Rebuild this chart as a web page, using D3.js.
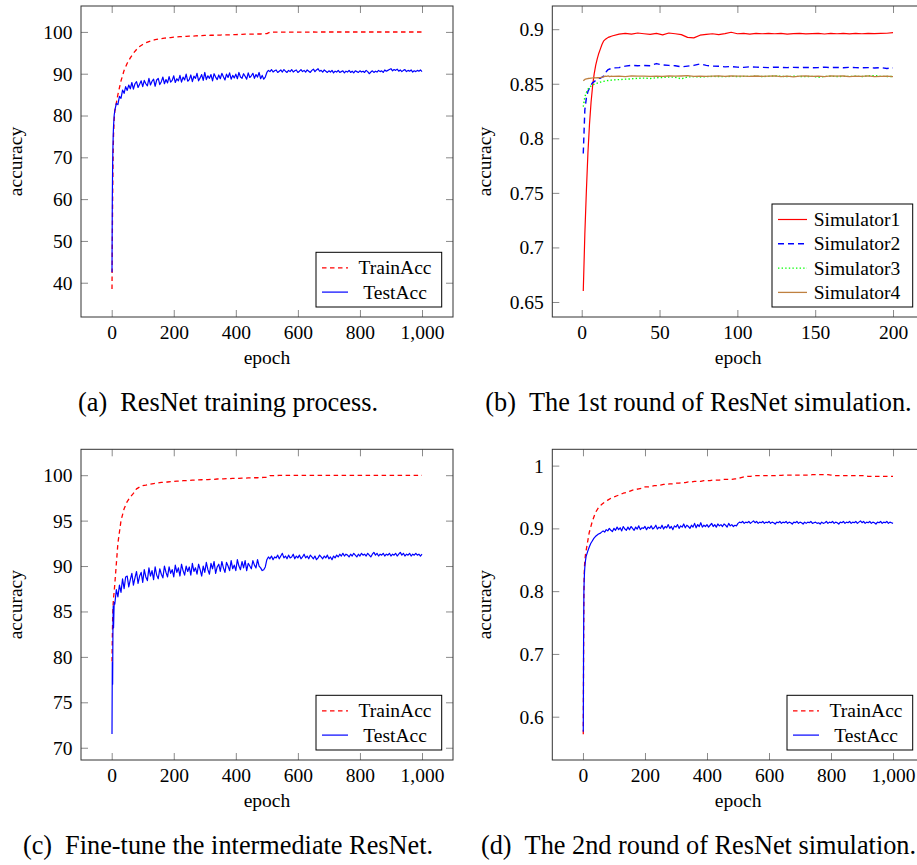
<!DOCTYPE html>
<html>
<head>
<meta charset="utf-8">
<script src="https://cdn.jsdelivr.net/npm/d3@7"></script>
<style>
  html, body { margin: 0; padding: 0; background: #fff; overflow: hidden; }
  svg { display: block; }
  text { font-family: "Liberation Serif", "Times New Roman", serif; fill: #000; }
</style>
</head>
<body>
<svg id="fig" width="917" height="865"></svg>
<script>
// ---------------------------------------------------------------------------
// Epoch grids (shared by the 1000-epoch runs)
// ---------------------------------------------------------------------------
const trainEpochs = [1, 2, 3, 4, 5, 6, 8].concat(d3.range(10, 1001, 10));
const testEpochs = [1, 2, 3, 4, 5, 6, 8].concat(d3.range(10, 1001, 5));
const simEpochs = d3.range(1, 20).concat(d3.range(20, 201, 4));

// ---------------------------------------------------------------------------
// (a) ResNet training process
// ---------------------------------------------------------------------------
const trainAccA = [
  38.5, 50, 60, 67, 72, 75.5, 79,
  81, 85, 88.3, 90.8, 92.5, 93.8, 94.9, 95.8, 96.5, 97.0,
  97.4, 97.7, 97.95, 98.15, 98.3, 98.4, 98.5, 98.6, 98.65, 98.75,
  98.8, 98.85, 98.9, 98.95, 99.0, 99.0, 99.05, 99.1, 99.1, 99.15,
  99.15, 99.2, 99.2, 99.25, 99.25, 99.3, 99.3, 99.3, 99.35, 99.35,
  99.4, 99.4, 99.45, 99.45, 99.45, 99.5, 99.5, 99.5, 99.55, 99.6,
  99.92, 99.94, 99.95, 99.95, 99.96, 99.96, 99.96, 99.97, 99.97, 99.97,
  99.97, 99.97, 99.97, 99.97, 99.98, 99.97, 99.98, 99.98, 99.98, 99.98,
  99.98, 99.98, 99.98, 99.98, 99.98, 99.98, 99.98, 99.98, 99.98, 99.98,
  99.98, 99.98, 99.98, 99.98, 99.98, 99.98, 99.98, 99.98, 99.98, 99.98,
  99.98, 99.98, 99.98, 99.98, 99.98, 99.98, 99.98, 99.98, 99.98, 99.98
];
const testAccA = [
  42.5, 60, 68, 72.5, 75.5, 77.5, 80,
  81.2, 82.9, 82.6, 84.6, 84.1, 86.1, 85.3, 86.9,
  86.0, 87.3, 86.4, 87.9, 86.3, 87.6, 88.1, 86.7, 87.5, 88.3,
  86.9, 88.4, 87.6, 87.1, 88.9, 87.3, 88.2, 88.7, 87.0, 88.5,
  88.9, 87.4, 88.1, 89.2, 87.6, 88.6, 87.8, 89.3, 88.0, 88.4,
  89.5, 87.9, 88.8, 88.3, 89.6, 88.0, 89.2, 88.5, 89.9, 88.2,
  88.6, 89.7, 88.1, 89.4, 88.9, 90.1, 88.3, 89.0, 89.8, 88.4,
  90.3, 88.6, 89.5, 88.9, 89.8, 88.3, 90.0, 89.2, 88.6, 89.7,
  88.8, 90.1, 89.3, 88.5, 89.9, 89.1, 90.2, 88.7, 89.6, 89.0,
  89.9, 88.8, 90.3, 89.2, 88.9, 90.0, 89.4, 88.7, 90.2, 89.1,
  89.5, 90.1, 88.9, 89.8, 89.2, 90.3, 88.8, 89.6, 88.7, 89.2,
  90.3, 90.8, 90.5, 91.0, 90.4, 90.7, 90.9, 90.3, 90.6, 90.9,
  90.4, 91.0, 90.6, 90.3, 90.8, 90.5, 91.0, 90.4, 90.7, 90.9,
  90.3, 90.6, 91.0, 90.5, 90.8, 90.4, 90.9, 90.6, 90.3, 90.8,
  91.1, 90.5, 90.9, 91.2, 90.6, 90.8, 90.4, 90.9, 90.6, 90.3,
  90.7, 90.4, 90.8, 90.2, 90.6, 90.4, 90.8, 90.3, 90.5, 90.7,
  90.2, 90.6, 90.4, 90.8, 90.3, 90.6, 90.2, 90.7, 90.5, 90.3,
  90.7, 90.4, 90.6, 90.3, 90.8, 90.5, 90.0, 90.4, 90.7, 90.3,
  90.6, 90.4, 90.8, 90.5, 90.7, 90.3, 90.9, 90.6, 90.8, 91.0,
  91.2, 90.7, 91.0, 90.8, 91.1, 90.6, 90.9, 90.5, 90.8, 91.0,
  90.5, 90.8, 90.6, 90.9, 90.4, 90.7, 90.5, 90.8, 90.6, 90.9,
  90.5
];

// ---------------------------------------------------------------------------
// (b) The 1st round of ResNet simulation
// ---------------------------------------------------------------------------
const simulator1 = [
  0.660, 0.712, 0.752, 0.787, 0.813, 0.833, 0.848, 0.859, 0.867, 0.873,
  0.878, 0.882, 0.886, 0.889, 0.8905, 0.8915, 0.8925, 0.893, 0.8935,
  0.8940, 0.8955, 0.8962, 0.8955, 0.8965, 0.8958, 0.8952, 0.8962, 0.8948, 0.8965,
  0.8958, 0.8950, 0.8925, 0.8920, 0.8945, 0.8952, 0.8958, 0.8950, 0.8960, 0.8972,
  0.8958, 0.8962, 0.8955, 0.8962, 0.8958, 0.8962, 0.8958, 0.8962, 0.8955, 0.8960,
  0.8962, 0.8957, 0.8960, 0.8962, 0.8956, 0.8961, 0.8958, 0.8962, 0.8957, 0.8961,
  0.8958, 0.8962, 0.8960, 0.8961, 0.8963, 0.8968
];
const simulator2 = [
  0.786, 0.826, 0.837, 0.843, 0.846, 0.849, 0.851, 0.852, 0.853, 0.854,
  0.855, 0.855, 0.856, 0.857, 0.859, 0.8615, 0.863, 0.8635, 0.864,
  0.8645, 0.8648, 0.8662, 0.8668, 0.8665, 0.8668, 0.8665, 0.8685, 0.8672, 0.8668,
  0.8665, 0.8655, 0.8662, 0.8668, 0.8682, 0.8668, 0.8662, 0.8660, 0.8655, 0.8658,
  0.8652, 0.8650, 0.8655, 0.8652, 0.8650, 0.8648, 0.8652, 0.8650, 0.8648, 0.8650,
  0.8648, 0.8650, 0.8647, 0.8648, 0.8652, 0.8648, 0.8650, 0.8647, 0.8650, 0.8648,
  0.8646, 0.8648, 0.8645, 0.8648, 0.8640, 0.8645
];
const simulator3 = [
  0.829, 0.838, 0.842, 0.845, 0.8465, 0.848, 0.849, 0.8495, 0.850, 0.8505,
  0.851, 0.8515, 0.852, 0.8522, 0.8525, 0.8528, 0.853, 0.8532, 0.8533,
  0.8535, 0.8538, 0.8542, 0.8545, 0.8550, 0.8552, 0.8548, 0.8555, 0.8558, 0.8562,
  0.8560, 0.8545, 0.8562, 0.8565, 0.8562, 0.8565, 0.8568, 0.8566, 0.8565, 0.8568,
  0.8566, 0.8568, 0.8567, 0.8569, 0.8566, 0.8568, 0.8572, 0.8568, 0.8566, 0.8569,
  0.8567, 0.8565, 0.8568, 0.8560, 0.8567, 0.8569, 0.8566, 0.8568, 0.8567, 0.8569,
  0.8566, 0.8572, 0.8575, 0.8568, 0.8567, 0.8566
];
const simulator4 = [
  0.8528, 0.8540, 0.8545, 0.8548, 0.8550, 0.8552, 0.8553, 0.8555, 0.8554, 0.8556,
  0.8555, 0.8557, 0.8560, 0.8562, 0.8570, 0.8568, 0.8572, 0.8566, 0.8569,
  0.8568, 0.8570, 0.8566, 0.8572, 0.8569, 0.8570, 0.8567, 0.8570, 0.8568, 0.8571,
  0.8569, 0.8571, 0.8574, 0.8567, 0.8570, 0.8568, 0.8570, 0.8572, 0.8568, 0.8571,
  0.8569, 0.8570, 0.8567, 0.8571, 0.8568, 0.8570, 0.8572, 0.8566, 0.8570, 0.8563,
  0.8569, 0.8571, 0.8567, 0.8570, 0.8566, 0.8572, 0.8569, 0.8571, 0.8566, 0.8570,
  0.8568, 0.8573, 0.8565, 0.8568, 0.8570, 0.8566
];

// ---------------------------------------------------------------------------
// (c) Fine-tune the intermediate ResNet
// ---------------------------------------------------------------------------
const trainAccC = [
  79.5, 82, 84, 85.2, 86, 86.5, 87.2,
  88.0, 92.5, 95.0, 96.3, 97.1, 97.6, 98.0, 98.5, 98.7, 98.85,
  98.9, 99.0, 99.05, 99.1, 99.15, 99.2, 99.2, 99.25, 99.3, 99.3,
  99.35, 99.35, 99.4, 99.4, 99.42, 99.45, 99.45, 99.48, 99.5, 99.52,
  99.52, 99.55, 99.55, 99.58, 99.6, 99.6, 99.62, 99.62, 99.65, 99.65,
  99.66, 99.68, 99.68, 99.7, 99.7, 99.72, 99.72, 99.74, 99.75, 99.76,
  99.95, 99.96, 99.96, 99.97, 99.97, 99.97, 99.97, 99.98, 99.98, 99.98,
  99.98, 99.98, 99.98, 99.98, 99.98, 99.98, 99.98, 99.98, 99.98, 99.98,
  99.98, 99.98, 99.98, 99.98, 99.98, 99.98, 99.98, 99.98, 99.98, 99.98,
  99.98, 99.98, 99.98, 99.98, 99.98, 99.98, 99.98, 99.98, 99.98, 99.98,
  99.98, 99.98, 99.98, 99.98, 99.98, 99.98, 99.98, 99.98, 99.98, 99.98
];
const testAccC = [
  71.5, 79.4, 77.0, 83.0, 85.6, 83.2, 86.0,
  85.8, 87.4, 86.6, 87.9, 87.1, 88.6, 87.5, 88.8,
  88.9, 87.7, 88.5, 89.2, 87.9, 88.7, 89.4, 88.1, 88.9, 89.3,
  88.2, 89.6, 88.8, 88.4, 89.8, 88.9, 89.5, 88.5, 89.9, 89.0,
  88.6, 89.7, 89.1, 88.7, 90.0, 89.3, 88.8, 89.9, 89.2, 89.6,
  88.8, 90.1, 89.3, 89.8, 88.9, 90.2, 89.5, 89.0, 90.0, 89.4,
  89.9, 89.0, 90.3, 89.4, 89.8, 89.1, 90.2, 89.6, 88.9, 90.0,
  89.3, 90.4, 89.6, 89.1, 90.3, 89.7, 90.5, 89.2, 89.9, 90.2,
  89.4, 90.5, 89.8, 89.3, 90.4, 90.0, 89.5, 90.6, 89.7, 90.1,
  89.5, 90.7, 90.0, 89.6, 90.5, 89.8, 90.6, 89.5, 90.3, 90.0,
  89.7, 90.6, 90.1, 89.8, 90.7, 90.0, 89.8, 89.5, 89.6, 89.9,
  90.7, 91.0, 90.8, 91.1, 90.7, 91.0, 90.9, 91.2, 90.8, 91.1,
  91.4, 90.9, 91.1, 90.8, 91.2, 90.9, 91.0, 91.3, 90.8, 91.1,
  90.9, 91.2, 90.8, 91.0, 91.3, 90.9, 91.1, 90.8, 91.2, 91.0,
  90.8, 91.1, 90.7, 90.9, 91.2, 91.0, 90.8, 91.1, 90.9, 91.2,
  90.8, 91.0, 90.7, 91.1, 90.9, 91.2, 91.0, 91.3, 91.1, 91.4,
  91.1, 91.3, 91.2, 91.0, 91.3, 91.1, 91.4, 91.2, 91.0, 91.3,
  91.1, 91.4, 91.2, 91.3, 91.1, 91.4, 91.2, 91.0, 91.3, 91.5,
  91.2, 91.4, 91.1, 91.3, 91.2, 91.4, 91.1, 91.3, 91.2, 91.4,
  91.1, 91.3, 91.2, 91.4, 91.1, 91.3, 91.5, 91.2, 91.4, 91.1,
  91.3, 91.2, 91.4, 91.1, 91.3, 91.2, 91.4, 91.2, 91.3, 91.1,
  91.3
];

// ---------------------------------------------------------------------------
// (d) The 2nd round of ResNet simulation
// ---------------------------------------------------------------------------
const trainAccD = [
  0.572, 0.70, 0.79, 0.825, 0.84, 0.848, 0.858,
  0.864, 0.893, 0.911, 0.925, 0.933, 0.938, 0.942, 0.945, 0.948, 0.950,
  0.952, 0.954, 0.956, 0.957, 0.959, 0.961, 0.962, 0.963, 0.964, 0.966,
  0.966, 0.967, 0.968, 0.968, 0.969, 0.970, 0.970, 0.971, 0.971, 0.972,
  0.972, 0.973, 0.973, 0.974, 0.974, 0.975, 0.975, 0.975, 0.976, 0.976,
  0.976, 0.977, 0.977, 0.977, 0.978, 0.978, 0.978, 0.978, 0.979, 0.979,
  0.981, 0.982, 0.983, 0.983, 0.984, 0.984, 0.984, 0.984, 0.984, 0.984,
  0.984, 0.984, 0.9845, 0.9845, 0.985, 0.985, 0.985, 0.985, 0.985, 0.985,
  0.985, 0.985, 0.985, 0.9855, 0.9855, 0.9855, 0.9855, 0.9855, 0.9855, 0.985,
  0.984, 0.984, 0.984, 0.984, 0.984, 0.984, 0.984, 0.984, 0.984, 0.984,
  0.984, 0.983, 0.983, 0.983, 0.983, 0.983, 0.983, 0.983, 0.983, 0.983
];
const testAccD = [
  0.576, 0.72, 0.80, 0.818, 0.83, 0.838, 0.848,
  0.855, 0.863, 0.870, 0.876, 0.880, 0.884, 0.887, 0.889,
  0.891, 0.892, 0.894, 0.896, 0.894, 0.898, 0.896, 0.900, 0.897, 0.895,
  0.900, 0.897, 0.902, 0.898, 0.901, 0.896, 0.903, 0.899, 0.897, 0.902,
  0.898, 0.903, 0.900, 0.897, 0.902, 0.899, 0.904, 0.898, 0.901, 0.900,
  0.903, 0.898, 0.902, 0.900, 0.904, 0.899, 0.901, 0.905, 0.899, 0.902,
  0.900, 0.905, 0.899, 0.903, 0.901, 0.906, 0.900, 0.903, 0.898, 0.904,
  0.902, 0.906, 0.900, 0.904, 0.902, 0.907, 0.901, 0.905, 0.903, 0.900,
  0.905, 0.902, 0.908, 0.901, 0.906, 0.903, 0.909, 0.902, 0.905, 0.903,
  0.906, 0.902, 0.905, 0.908, 0.903, 0.906, 0.902, 0.907, 0.904, 0.906,
  0.903, 0.907, 0.905, 0.902, 0.908, 0.904, 0.906, 0.903, 0.905, 0.904,
  0.908, 0.910, 0.909, 0.911, 0.908, 0.910, 0.909, 0.911, 0.908, 0.910,
  0.912, 0.909, 0.911, 0.908, 0.910, 0.909, 0.911, 0.908, 0.910, 0.909,
  0.911, 0.908, 0.910, 0.909, 0.907, 0.910, 0.909, 0.911, 0.908, 0.910,
  0.909, 0.911, 0.908, 0.910, 0.909, 0.907, 0.910, 0.909, 0.911, 0.908,
  0.910, 0.909, 0.907, 0.910, 0.908, 0.910, 0.909, 0.911, 0.908, 0.909,
  0.910, 0.908, 0.909, 0.907, 0.910, 0.908, 0.909, 0.911, 0.908, 0.910,
  0.909, 0.911, 0.908, 0.910, 0.909, 0.907, 0.910, 0.909, 0.911, 0.908,
  0.910, 0.909, 0.911, 0.908, 0.910, 0.909, 0.911, 0.908, 0.910, 0.912,
  0.909, 0.911, 0.908, 0.910, 0.909, 0.911, 0.908, 0.910, 0.909, 0.907,
  0.910, 0.909, 0.911, 0.908, 0.910, 0.909, 0.911, 0.908, 0.910, 0.909,
  0.908
];

// ---------------------------------------------------------------------------
// Tick values and labels
// ---------------------------------------------------------------------------
const epochTicks1000 = [0, 200, 400, 600, 800, 1000];
const epochTicks200 = [0, 50, 100, 150, 200];
const accTicksA = [40, 50, 60, 70, 80, 90, 100];
const accTicksB = [0.65, 0.7, 0.75, 0.8, 0.85, 0.9];
const accTicksC = [70, 75, 80, 85, 90, 95, 100];
const accTicksD = [0.6, 0.7, 0.8, 0.9, 1];

const legendTrainTest = ["TrainAcc", "TestAcc"];
const legendSimulators = ["Simulator1", "Simulator2", "Simulator3", "Simulator4"];
const captions = [
  ["(a)", "ResNet training process."],
  ["(b)", "The 1st round of ResNet simulation."],
  ["(c)", "Fine-tune the intermediate ResNet."],
  ["(d)", "The 2nd round of ResNet simulation."]
];

// ---------------------------------------------------------------------------
// Styles
// ---------------------------------------------------------------------------
const styleTrain = { color: "#ff0000", dash: "4.5,3.5", width: 1.3 };
const styleTest  = { color: "#0000ff", dash: null, width: 1.2 };
const styleSim = [
  { color: "#ff0000", dash: null, width: 1.2 },
  { color: "#0000ff", dash: "6,4", width: 1.4 },
  { color: "#00ff00", dash: "1.4,2.2", width: 1.4 },
  { color: "#bf8040", dash: null, width: 1.3 }
];

const fmtThousands = d3.format(",");
const fmtPlain = v => String(+v.toFixed(2));

// Panel layout (frame box in page pixels + axis limits)
const panels = [
  {
    frame: { left: 81, right: 453, top: 6, bottom: 317 },
    xDomain: [-98.9, 1099.9], yDomain: [31.8, 106.2],
    xTicks: epochTicks1000, yTicks: accTicksA, xFmt: fmtThousands, yFmt: fmtPlain,
    series: [
      { x: trainEpochs, y: trainAccA, style: styleTrain },
      { x: testEpochs, y: testAccA, style: styleTest }
    ],
    legend: { names: legendTrainTest, width: 125.7, height: 54.7, sample: [6, 32], textMid: 79 },
    ylabelX: 22, caption: captions[0], captionX: 228, captionY: 410.5
  },
  {
    frame: { left: 552.3, right: 924, top: 6, bottom: 317 },
    xDomain: [-18.9, 219.9], yDomain: [0.63625, 0.92125],
    xTicks: epochTicks200, yTicks: accTicksB, xFmt: fmtThousands, yFmt: fmtPlain,
    series: [
      { x: simEpochs, y: simulator1, style: styleSim[0] },
      { x: simEpochs, y: simulator2, style: styleSim[1] },
      { x: simEpochs, y: simulator3, style: styleSim[2] },
      { x: simEpochs, y: simulator4, style: styleSim[3] }
    ],
    legend: { names: legendSimulators, width: 140.7, height: 103, sample: [6, 35], textMid: 85 },
    ylabelX: 490.5, caption: captions[1], captionX: 698.5, captionY: 410.5
  },
  {
    frame: { left: 81, right: 453, top: 449.3, bottom: 760 },
    xDomain: [-98.9, 1099.9], yDomain: [68.65, 102.85],
    xTicks: epochTicks1000, yTicks: accTicksC, xFmt: fmtThousands, yFmt: fmtPlain,
    series: [
      { x: trainEpochs, y: trainAccC, style: styleTrain },
      { x: testEpochs, y: testAccC, style: styleTest }
    ],
    legend: { names: legendTrainTest, width: 125.7, height: 54.7, sample: [6, 32], textMid: 79 },
    ylabelX: 22, caption: captions[2], captionX: 228, captionY: 853.8
  },
  {
    frame: { left: 552.3, right: 924, top: 449.3, bottom: 760 },
    xDomain: [-98.9, 1099.9], yDomain: [0.531, 1.026],
    xTicks: epochTicks1000, yTicks: accTicksD, xFmt: fmtThousands, yFmt: fmtPlain,
    series: [
      { x: trainEpochs, y: trainAccD, style: styleTrain },
      { x: testEpochs, y: testAccD, style: styleTest }
    ],
    legend: { names: legendTrainTest, width: 125.7, height: 54.7, sample: [6, 32], textMid: 79 },
    ylabelX: 490.5, caption: captions[3], captionX: 698.5, captionY: 853.8
  }
];

const svg = d3.select("#fig");
const FONT = 19.5;
const TICK = 7;

panels.forEach(p => {
  const f = p.frame;
  const x = d3.scaleLinear().domain(p.xDomain).range([f.left, f.right]);
  const y = d3.scaleLinear().domain(p.yDomain).range([f.bottom, f.top]);
  const g = svg.append("g");

  // inward ticks on all four sides
  const styleAxis = (sel) => {
    sel.select(".domain").remove();
    sel.selectAll(".tick line").attr("stroke", "#8a8a8a").attr("stroke-width", 1);
    sel.selectAll("text").style("font-size", FONT + "px").attr("fill", "#000");
  };
  const xb = g.append("g").attr("transform", `translate(0,${f.bottom})`)
    .call(d3.axisBottom(x).tickValues(p.xTicks).tickFormat(p.xFmt).tickSizeInner(-TICK).tickSizeOuter(0))
    .call(styleAxis);
  xb.selectAll("text").attr("y", 21.5).attr("dy", null);
  g.append("g").attr("transform", `translate(0,${f.top})`)
    .call(d3.axisTop(x).tickValues(p.xTicks).tickFormat("").tickSizeInner(-TICK).tickSizeOuter(0))
    .call(styleAxis);
  const yl = g.append("g").attr("transform", `translate(${f.left},0)`)
    .call(d3.axisLeft(y).tickValues(p.yTicks).tickFormat(p.yFmt).tickSizeInner(-TICK).tickSizeOuter(0))
    .call(styleAxis);
  yl.selectAll("text").attr("x", -8.5).attr("dy", "0.33em");
  g.append("g").attr("transform", `translate(${f.right},0)`)
    .call(d3.axisRight(y).tickValues(p.yTicks).tickFormat("").tickSizeInner(-TICK).tickSizeOuter(0))
    .call(styleAxis);
  g.selectAll(".tick text").style("font-family", '"Liberation Serif", serif');

  // data lines
  const line = d3.line().x(d => x(d[0])).y(d => y(d[1]));
  p.series.forEach(s => {
    const pts = s.x.map((e, i) => [e, s.y[i]]);
    g.append("path")
      .attr("d", line(pts))
      .attr("fill", "none")
      .attr("stroke", s.style.color)
      .attr("stroke-width", s.style.width)
      .attr("stroke-linejoin", "round")
      .attr("stroke-dasharray", s.style.dash);
  });

  // frame
  g.append("rect")
    .attr("x", f.left).attr("y", f.top)
    .attr("width", f.right - f.left).attr("height", f.bottom - f.top)
    .attr("fill", "none").attr("stroke", "#333").attr("stroke-width", 1);

  // axis titles
  g.append("text")
    .attr("x", (f.left + f.right) / 2).attr("y", f.bottom + 47.3)
    .attr("text-anchor", "middle").style("font-size", FONT + "px")
    .text("epoch");
  g.append("text")
    .attr("transform", `translate(${p.ylabelX},${(f.top + f.bottom) / 2}) rotate(-90)`)
    .attr("text-anchor", "middle").style("font-size", FONT + "px")
    .text("accuracy");

  // legend
  const L = p.legend;
  const lx = f.right - 11.3 - L.width;
  const ly = f.bottom - 10 - L.height;
  const lg = g.append("g").attr("transform", `translate(${lx},${ly})`);
  lg.append("rect").attr("width", L.width).attr("height", L.height)
    .attr("fill", "#fff").attr("stroke", "#000").attr("stroke-width", 1);
  L.names.forEach((name, i) => {
    const st = p.series[i].style;
    const cy = 15.5 + i * 24.3;
    lg.append("line")
      .attr("x1", L.sample[0]).attr("x2", L.sample[1])
      .attr("y1", cy).attr("y2", cy)
      .attr("stroke", st.color).attr("stroke-width", st.width)
      .attr("stroke-dasharray", st.dash);
    lg.append("text")
      .attr("x", L.textMid).attr("y", cy + 6.5)
      .attr("text-anchor", "middle").style("font-size", FONT + "px")
      .text(name);
  });

  // sub-caption
  const cap = svg.append("text")
    .attr("x", p.captionX).attr("y", p.captionY)
    .attr("text-anchor", "middle").style("font-size", "26.3px");
  cap.append("tspan").text(p.caption[0]);
  cap.append("tspan").attr("dx", 13).text(p.caption[1]);
});
</script>
</body>
</html>
